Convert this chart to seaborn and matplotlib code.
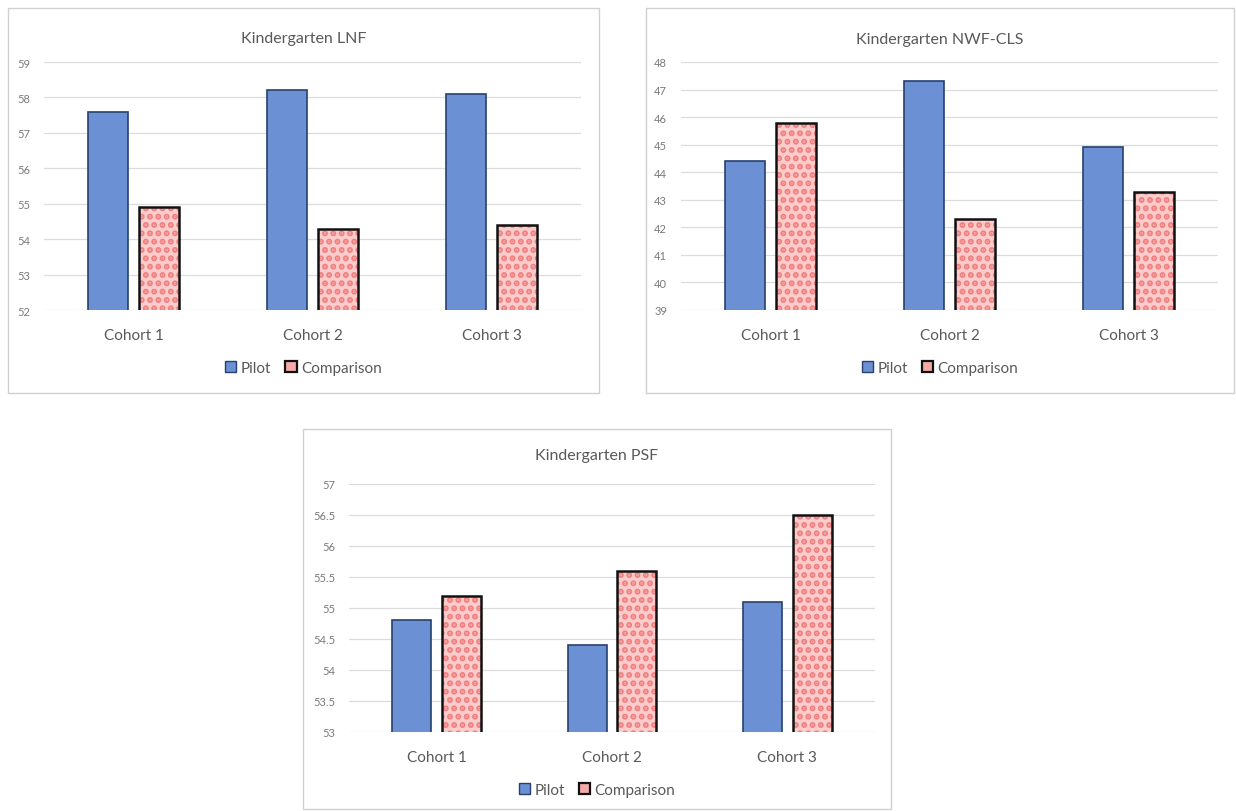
import matplotlib
matplotlib.use("Agg")
import matplotlib.pyplot as plt
from matplotlib.patches import Rectangle, Patch
import seaborn as sns
import pandas as pd

# ---- data ----
cohorts = ["Cohort 1", "Cohort 2", "Cohort 3"]
groups = ["Pilot", "Comparison"]

lnf_pilot = [57.6, 58.2, 58.1]
lnf_comparison = [54.9, 54.3, 54.4]

nwf_pilot = [44.4, 47.3, 44.9]
nwf_comparison = [45.8, 42.3, 43.3]

psf_pilot = [54.8, 54.4, 55.1]
psf_comparison = [55.2, 55.6, 56.5]

lnf_ticks = [52, 53, 54, 55, 56, 57, 58, 59]
nwf_ticks = [39, 40, 41, 42, 43, 44, 45, 46, 47, 48]
psf_ticks = [53, 53.5, 54, 54.5, 55, 55.5, 56, 56.5, 57]
psf_tick_labels = ["53", "53.5", "54", "54.5", "55", "55.5", "56", "56.5", "57"]

# ---- style ----
sns.set_theme(style="white")
plt.rcParams["font.family"] = ["Lato", "DejaVu Sans"]
plt.rcParams["hatch.linewidth"] = 3.0

PILOT = "#6b90d3"
PILOT_EDGE = "#27416e"
COMP_FILL = "#fbcccc"
COMP_DOT = "#f08080"
COMP_SWATCH = "#f5aaaa"
TEXT = "#595959"
GRID = "#dcdcdc"
FRAME = "#d0d0d0"

W, H = 1236, 812
fig = plt.figure(figsize=(W / 100, H / 100), dpi=100)
fig.patch.set_facecolor("white")


def px_axes(left, top, right, bottom):
    return fig.add_axes([left / W, (H - bottom) / H, (right - left) / W, (bottom - top) / H])


def frame(left, top, right, bottom):
    fig.patches.append(Rectangle((left / W, (H - bottom) / H), (right - left) / W, (bottom - top) / H,
                                 transform=fig.transFigure, fill=False, edgecolor=FRAME, lw=1.0))


def panel(ax, title, pilot, comparison, ticks, tick_labels, frame_box, title_y, legend_y):
    df = pd.DataFrame({
        "Cohort": cohorts * 2,
        "Group": [groups[0]] * 3 + [groups[1]] * 3,
        "Score": list(pilot) + list(comparison),
    })
    sns.barplot(data=df, x="Cohort", y="Score", hue="Group", hue_order=groups,
                palette=[PILOT, COMP_FILL], saturation=1, width=0.57, gap=0.22,
                legend=False, ax=ax, zorder=3)
    for bar in ax.containers[0]:
        bar.set_edgecolor(PILOT_EDGE)
        bar.set_linewidth(1.2)
    for bar in ax.containers[1]:
        bar.set_facecolor(COMP_FILL)
        bar.set_hatch("..")
        bar.set_edgecolor(COMP_DOT)
        bar.set_linewidth(0)
        ax.add_patch(Rectangle(bar.get_xy(), bar.get_width(), bar.get_height(),
                               fill=False, edgecolor="#111111", lw=1.8, zorder=4))

    ax.set_ylim(ticks[0], ticks[-1])
    ax.set_yticks(ticks)
    ax.set_yticklabels(tick_labels, fontsize=8, color="#7a7a7a")
    ax.set_xlim(-0.5, 2.5)
    ax.tick_params(axis="x", labelsize=11, labelcolor=TEXT, length=0, pad=13)
    ax.tick_params(axis="y", length=0, pad=10)
    ax.set_xlabel("")
    ax.set_ylabel("")
    ax.yaxis.grid(True, color=GRID, lw=0.9, zorder=0)
    ax.set_axisbelow(True)
    for s in ax.spines.values():
        s.set_visible(False)

    fl, ft, fr, fb = frame_box
    frame(fl, ft, fr, fb)
    cx = (fl + fr) / 2
    fig.text(cx / W, (H - title_y) / H, title, ha="center", va="center",
             fontsize=11.5, color=TEXT)

    handles = [Patch(facecolor=PILOT, edgecolor=PILOT_EDGE, lw=1.0, label=groups[0]),
               Patch(facecolor=COMP_SWATCH, edgecolor="#111111", lw=1.6, label=groups[1])]
    leg = fig.legend(handles=handles, loc="center", bbox_to_anchor=(cx / W, (H - legend_y) / H),
                     ncol=2, frameon=False, fontsize=11, handlelength=0.75, handleheight=0.75,
                     handletextpad=0.3, columnspacing=0.9, borderaxespad=0)
    for t in leg.get_texts():
        t.set_color(TEXT)


ax1 = px_axes(44, 63, 581, 311)
panel(ax1, "Kindergarten LNF", lnf_pilot, lnf_comparison, lnf_ticks,
      [str(t) for t in lnf_ticks], (8, 9, 599, 394), 39, 369)

ax2 = px_axes(681, 63, 1218, 311)
panel(ax2, "Kindergarten NWF-CLS", nwf_pilot, nwf_comparison, nwf_ticks,
      [str(t) for t in nwf_ticks], (646, 9, 1234, 394), 40, 369)

ax3 = px_axes(349, 485, 875, 733)
panel(ax3, "Kindergarten PSF", psf_pilot, psf_comparison, psf_ticks,
      psf_tick_labels, (303, 430, 891, 810), 456, 791)

fig.savefig("out.png", dpi=100, facecolor="white")
